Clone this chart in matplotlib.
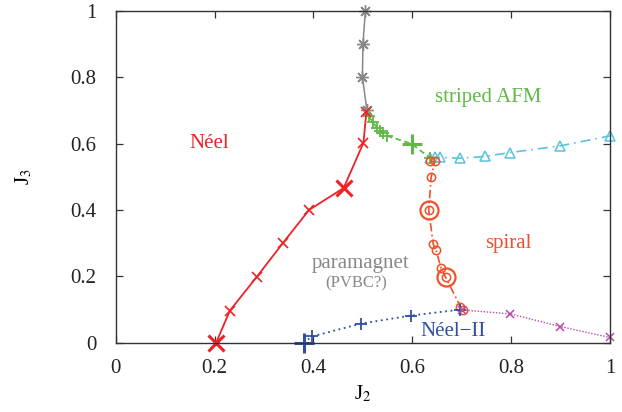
"""Phase diagram of the J1-J2-J3 model."""

import matplotlib
matplotlib.use("Agg")
import matplotlib.pyplot as plt

plt.rcParams["font.family"] = ["Liberation Serif", "DejaVu Serif"]
plt.rcParams["mathtext.fontset"] = "stix"

# Neel boundary
neel_j2 = [0.203, 0.231, 0.285, 0.338, 0.391, 0.461, 0.501, 0.507]
neel_j3 = [0.0, 0.097, 0.198, 0.300, 0.400, 0.466, 0.602, 0.696]
neel_big_j2 = [0.203, 0.461]
neel_big_j3 = [0.0, 0.466]

# paramagnet / upper boundary
gray_j2 = [0.505, 0.500, 0.499, 0.508]
gray_j3 = [1.0, 0.9, 0.8, 0.70]

# striped AFM boundary
stripe_j2 = [0.512, 0.520, 0.528, 0.534, 0.540, 0.549, 0.599, 0.636]
stripe_j3 = [0.682, 0.665, 0.648, 0.638, 0.632, 0.623, 0.599, 0.556]
stripe_big_j2 = [0.599]
stripe_big_j3 = [0.599]

# striped AFM / spiral
cyan_j2 = [0.636, 0.645, 0.655, 0.697, 0.747, 0.798, 0.899, 0.999]
cyan_j3 = [0.556, 0.558, 0.558, 0.556, 0.561, 0.573, 0.593, 0.623]

# spiral boundary
spiral_j2 = [0.636, 0.645, 0.638, 0.633, 0.642, 0.648, 0.658, 0.667, 0.697, 0.702]
spiral_j3 = [0.546, 0.546, 0.499, 0.400, 0.298, 0.278, 0.225, 0.198, 0.109, 0.099]
spiral_big_j2 = [0.633, 0.667]
spiral_big_j3 = [0.400, 0.198]

# Neel-II boundary
neel2_j2 = [0.380, 0.397, 0.497, 0.597, 0.697]
neel2_j3 = [0.0, 0.019, 0.058, 0.082, 0.100]
neel2_big_j2 = [0.380]
neel2_big_j3 = [0.0]

# Neel-II / spiral
mag_j2 = [0.701, 0.798, 0.899, 0.999]
mag_j3 = [0.099, 0.087, 0.049, 0.016]

RED = "#ec2227"
GRAY = "#888888"
GREEN = "#62b846"
CYAN = "#5ac3dc"
ORANGE = "#f0502a"
BLUE = "#2f4f9f"
MAGENTA = "#b84aa8"

fig = plt.figure(figsize=(6.22, 4.12), dpi=100)
ax = fig.add_axes([0.186, 0.168, 0.795, 0.806])

ax.plot(gray_j2, gray_j3, color=GRAY, lw=1.1, marker=(8, 2, 0), ms=9, mew=1.0,
        clip_on=False)
ax.plot(cyan_j2, cyan_j3, color=CYAN, lw=1.2, ls=(0, (6, 3, 1, 3)),
        marker="^", ms=7, mfc="none", mew=1.1, clip_on=False)
ax.plot(stripe_j2, stripe_j3, color=GREEN, lw=1.3, ls=(0, (3, 2)),
        marker="+", ms=8, mew=1.3)
ax.plot(stripe_big_j2, stripe_big_j3, ls="none", color=GREEN, marker="+", ms=14, mew=2.2)
ax.plot(spiral_j2, spiral_j3, color=ORANGE, lw=1.2, ls=(0, (5, 2, 1, 2)),
        marker="o", ms=6, mfc="none", mew=1.1)
ax.plot(spiral_big_j2, spiral_big_j3, ls="none", color=ORANGE, marker="o", ms=13,
        mfc="none", mew=1.6)
ax.plot(neel2_j2, neel2_j3, color=BLUE, lw=1.3, ls=(0, (1, 2)),
        marker="+", ms=9, mew=1.3, clip_on=False)
ax.plot(neel2_big_j2, neel2_big_j3, ls="none", color=BLUE, marker="+", ms=15, mew=2.2,
        clip_on=False)
ax.plot(mag_j2, mag_j3, color=MAGENTA, lw=1.0, ls=(0, (1, 1.2)),
        marker="x", ms=6, mew=1.1, clip_on=False)
ax.plot(neel_j2, neel_j3, color=RED, lw=1.3, marker="x", ms=7, mew=1.2, clip_on=False)
ax.plot(neel_big_j2, neel_big_j3, ls="none", color=RED, marker="x", ms=12, mew=2.2,
        clip_on=False)

ax.text(0.19, 0.60, "Néel", color=RED, fontsize=15, ha="center", va="center")
ax.text(0.753, 0.74, "striped AFM", color=GREEN, fontsize=15, ha="center", va="center")
ax.text(0.794, 0.298, "spiral", color=ORANGE, fontsize=15, ha="center", va="center")
ax.text(0.495, 0.24, "paramagnet", color=GRAY, fontsize=15, ha="center", va="center")
ax.text(0.487, 0.178, "(PVBC?)", color=GRAY, fontsize=12, ha="center", va="center")
ax.text(0.683, 0.033, "Néel−II", color=BLUE, fontsize=15, ha="center", va="center")

ax.set_xlim(0, 1)
ax.set_ylim(0, 1)
ax.set_xticks([0, 0.2, 0.4, 0.6, 0.8, 1])
ax.set_xticklabels(["0", "0.2", "0.4", "0.6", "0.8", "1"])
ax.set_yticks([0, 0.2, 0.4, 0.6, 0.8, 1])
ax.set_yticklabels(["0", "0.2", "0.4", "0.6", "0.8", "1"])
ax.tick_params(direction="in", top=True, right=True, length=5, width=0.9,
               labelsize=15, color="#333333", labelcolor="#222222")
ax.tick_params(axis="x", pad=12)
ax.tick_params(axis="y", pad=14)
for s in ax.spines.values():
    s.set_linewidth(1.0)
    s.set_color("#333333")
ax.set_xlabel("J$_2$", fontsize=15, labelpad=4)
ax.set_ylabel("J$_3$", fontsize=15, labelpad=26)

fig.savefig("out.png", dpi=100)
plt.close(fig)
